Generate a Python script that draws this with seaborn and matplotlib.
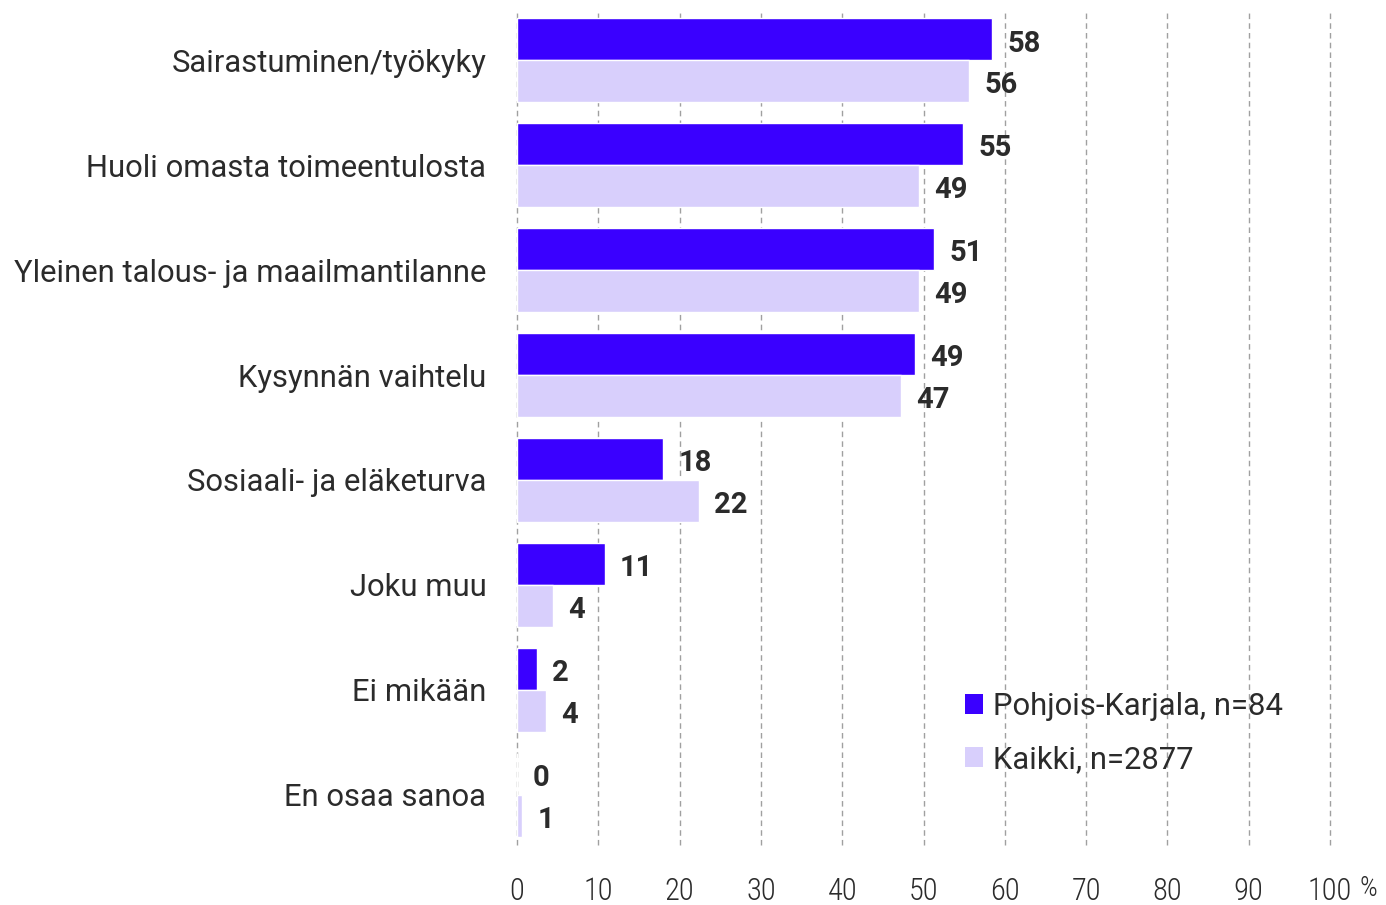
import pandas as pd
import numpy as np
import seaborn as sns
import matplotlib.pyplot as plt
from matplotlib import font_manager
from matplotlib.patches import Patch

# =========================
# Data
# =========================
categories = [
    "Sairastuminen/työkyky",
    "Huoli omasta toimeentulosta",
    "Yleinen talous- ja maailmantilanne",
    "Kysynnän vaihtelu",
    "Sosiaali- ja eläketurva",
    "Joku muu",
    "Ei mikään",
    "En osaa sanoa",
]
series_names = ["Pohjois-Karjala, n=84", "Kaikki, n=2877"]
pohjois_karjala = [58.4, 54.9, 51.3, 49.0, 18.0, 10.8, 2.4, 0.0]
kaikki = [55.6, 49.4, 49.4, 47.2, 22.4, 4.4, 3.6, 0.6]
x_ticks = [0, 10, 20, 30, 40, 50, 60, 70, 80, 90, 100]
x_ticklabels = ["0", "10", "20", "30", "40", "50", "60", "70", "80", "90", "100"]

colors = ["#3a00ff", "#d8cffc"]

df = pd.DataFrame({
    "category": categories * 2,
    "series": [series_names[0]] * len(categories) + [series_names[1]] * len(categories),
    "value": pohjois_karjala + kaikki,
})

# =========================
# Style
# =========================
sns.set_style("white")
available = {f.name for f in font_manager.fontManager.ttflist}
def pick(names):
    return next((f for f in names if f in available), "DejaVu Sans")
FONT = pick(["Roboto", "Open Sans", "DejaVu Sans"])
COND = pick(["Roboto Condensed", "Liberation Sans Narrow", "Roboto", "DejaVu Sans"])
plt.rcParams["font.family"] = [FONT, "DejaVu Sans"]
TEXT = "#2b2b2b"

# =========================
# Plot
# =========================
fig = plt.figure(figsize=(13.86, 9.05), dpi=100)
ax = fig.add_axes([517 / 1386, 60 / 905, (1330 - 517) / 1386, 835 / 905])

sns.barplot(
    data=df, y="category", x="value", hue="series",
    order=categories, hue_order=series_names,
    palette=colors, orient="h", width=0.8, saturation=1,
    legend=False, ax=ax,
)

for cont in ax.containers:
    labels = [str(int(b.get_width() + 0.5)) for b in cont]
    anns = ax.bar_label(cont, labels=labels, padding=11, fontsize=21,
                        fontweight="bold", color=TEXT)
    for a in anns:
        a.xyann = (11, -3)

ax.set_xlim(0, 100)
ax.set_ylim(7.48, -0.48)
ax.set_xticks(x_ticks)
ax.set_xticklabels(x_ticklabels, family=[COND, "DejaVu Sans"], fontweight="light")
ax.xaxis.grid(True, linestyle=(0, (4, 3)), color="#a0a0a0", linewidth=1)
for gl in ax.get_xgridlines():
    gl.set_clip_on(False)
ax.set_axisbelow(True)
for s in ax.spines.values():
    s.set_visible(False)
ax.tick_params(axis="x", length=0, pad=23, labelsize=22, labelcolor=TEXT)
ax.tick_params(axis="y", length=0, pad=22, labelsize=22.3, labelcolor=TEXT)
ax.set_xlabel("")
ax.set_ylabel("")

fig.text(1368 / 1386, 1 - 888 / 905, "%", fontsize=20, color=TEXT,
         ha="center", va="center", family=[COND, "DejaVu Sans"], fontweight="light")

handles = [Patch(facecolor=c, edgecolor="none") for c in colors]
fig.legend(handles, series_names, loc="center left",
           bbox_to_anchor=(937 / 1386, 1 - 733 / 905), frameon=False,
           fontsize=22.3, handlelength=0.6, handleheight=0.6,
           handletextpad=0.3, labelspacing=0.78, labelcolor=TEXT)

plt.savefig("out.png", dpi=100)
plt.close()
